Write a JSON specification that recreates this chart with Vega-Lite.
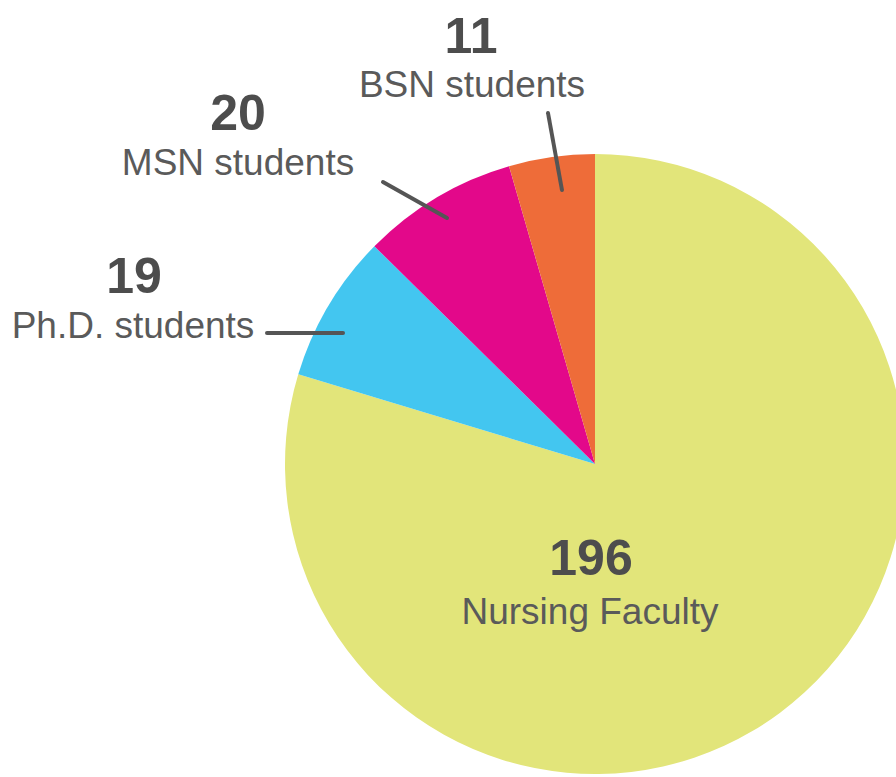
{
  "$schema": "https://vega.github.io/schema/vega-lite/v6.json",
  "width": 1190,
  "height": 928,
  "autosize": {"type": "none"},
  "padding": {"left": 0, "top": 0, "right": -294, "bottom": -151},
  "background": "white",
  "config": {"view": {"stroke": null}},
  "datasets": {
    "slices": [
      {"group": "Nursing Faculty", "count": 196, "idx": 1},
      {"group": "Ph.D. students", "count": 19, "idx": 2},
      {"group": "MSN students", "count": 20, "idx": 3},
      {"group": "BSN students", "count": 11, "idx": 4}
    ],
    "labels": [
      {"group": "Nursing Faculty", "x": -0.0161, "y": -0.5161, "nx": -0.0129, "ny": -0.3581},
      {"group": "Ph.D. students", "x": -1.4903, "y": 0.4065, "nx": -1.4871, "ny": 0.5516},
      {"group": "MSN students", "x": -1.1516, "y": 0.9323, "nx": -1.1516, "ny": 1.0774},
      {"group": "BSN students", "x": -0.3968, "y": 1.1839, "nx": -0.4, "ny": 1.3258}
    ],
    "leaders": [
      {"group": "Ph.D. students", "x1": -0.8129, "y1": 0.4226, "x2": -1.0581, "y2": 0.4226},
      {"group": "MSN students", "x1": -0.4774, "y1": 0.7935, "x2": -0.6839, "y2": 0.9097},
      {"group": "BSN students", "x1": -0.1065, "y1": 0.8839, "x2": -0.1516, "y2": 1.1323}
    ]
  },
  "layer": [
    {
      "data": {"name": "slices"},
      "mark": {"type": "arc", "outerRadius": 310},
      "encoding": {
        "theta": {"field": "count", "type": "quantitative", "stack": true},
        "order": {"field": "idx", "type": "quantitative"},
        "color": {
          "field": "group",
          "type": "nominal",
          "scale": {
            "domain": ["Nursing Faculty", "Ph.D. students", "MSN students", "BSN students"],
            "range": ["#E2E57A", "#43C6F0", "#E3088A", "#EE6C39"]
          },
          "legend": null
        }
      }
    },
    {
      "data": {"name": "leaders"},
      "mark": {"type": "rule", "color": "#555555", "strokeWidth": 4, "strokeCap": "round"},
      "encoding": {
        "x": {"field": "x1", "type": "quantitative", "scale": {"domain": [-1.9194, 1.9194]}, "axis": null},
        "y": {"field": "y1", "type": "quantitative", "scale": {"domain": [-1.4968, 1.4968]}, "axis": null},
        "x2": {"field": "x2"},
        "y2": {"field": "y2"}
      }
    },
    {
      "data": {"name": "labels"},
      "mark": {"type": "text", "font": "Liberation Sans", "fontSize": 37, "color": "#5a5a5a", "align": "center", "baseline": "alphabetic"},
      "encoding": {
        "x": {"field": "x", "type": "quantitative", "scale": {"domain": [-1.9194, 1.9194]}, "axis": null},
        "y": {"field": "y", "type": "quantitative", "scale": {"domain": [-1.4968, 1.4968]}, "axis": null},
        "text": {"field": "group"}
      }
    },
    {
      "data": {"name": "labels"},
      "transform": [
        {"lookup": "group", "from": {"data": {"name": "slices"}, "key": "group", "fields": ["count"]}}
      ],
      "mark": {"type": "text", "font": "Liberation Sans", "fontWeight": "bold", "fontSize": 50, "color": "#4d4d4d", "align": "center", "baseline": "alphabetic"},
      "encoding": {
        "x": {"field": "nx", "type": "quantitative", "scale": {"domain": [-1.9194, 1.9194]}, "axis": null},
        "y": {"field": "ny", "type": "quantitative", "scale": {"domain": [-1.4968, 1.4968]}, "axis": null},
        "text": {"field": "count"}
      }
    }
  ]
}
